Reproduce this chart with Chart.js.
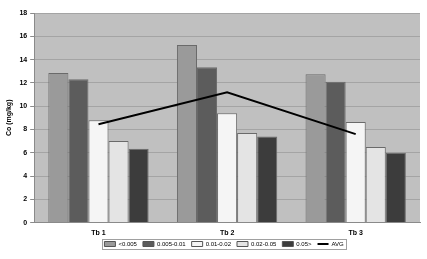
<!DOCTYPE html>
<html>
<head>
<meta charset="utf-8">
<script src="https://cdn.jsdelivr.net/npm/chart.js@4.4.0/dist/chart.umd.min.js"></script>
<style>
  html, body { margin: 0; padding: 0; background: #fff; }
  #wrap { width: 427px; height: 259px; position: relative; }
</style>
</head>
<body>
<div id="wrap"><canvas id="c"></canvas></div>
<script>
// --- data ---
const categories = ['Tb 1', 'Tb 2', 'Tb 3'];
const seriesNames = ['<0.005', '0.005-0.01', '0.01-0.02', '0.02-0.05', '0.05>'];
const s1 = [12.85, 15.25, 12.75];
const s2 = [12.3, 13.35, 12.1];
const s3 = [8.8, 9.4, 8.65];
const s4 = [7.0, 7.7, 6.5];
const s5 = [6.35, 7.4, 6.0];
const avg = [8.45, 11.2, 7.6];
const yTicks = [0, 2, 4, 6, 8, 10, 12, 14, 16, 18];

const barColors = ['#9a9a9a', '#5c5c5c', '#f5f5f5', '#e4e4e4', '#3c3c3c'];
const FONT = 'Liberation Sans, Arial, sans-serif';

// grey plot area + frame round the legend
const plotBg = {
    id: 'plotBg',
    afterLayout(chart) {
        // nudge the legend up/left so it sits like the original
        const lg = chart.legend;
        if (!lg) return;
        lg.top -= 8; lg.bottom -= 8;
        lg.left -= 3; lg.right -= 3;
    },
    beforeDraw(chart) {
        const a = chart.chartArea, ctx = chart.ctx;
        ctx.save();
        ctx.fillStyle = '#c0c0c0';
        ctx.fillRect(a.left, a.top, a.right - a.left, a.bottom - a.top);
        ctx.restore();
    },
    afterDraw(chart) {
        const lg = chart.legend, ctx = chart.ctx;
        if (!lg || !lg.legendHitBoxes.length) return;
        const boxes = lg.legendHitBoxes;
        const last = boxes[boxes.length - 1];
        const x0 = boxes[0].left - 2, x1 = last.left + last.width + 3;
        const y0 = boxes[0].top - 2, y1 = boxes[0].top + boxes[0].height + 2;
        ctx.save();
        ctx.strokeStyle = '#a0a0a0';
        ctx.lineWidth = 1;
        ctx.strokeRect(Math.round(x0) + 0.5, Math.round(y0) + 0.5, Math.round(x1 - x0), Math.round(y1 - y0));
        ctx.restore();
    }
};

const barData = [s1, s2, s3, s4, s5];
const datasets = barData.map((d, i) => ({
    type: 'bar',
    label: seriesNames[i],
    data: d,
    backgroundColor: barColors[i],
    borderColor: '#6a6a6a',
    borderWidth: 1,
    categoryPercentage: 0.78,
    barPercentage: 1.0,
    order: 2
}));
datasets.push({
    type: 'line',
    label: 'AVG',
    data: avg,
    borderColor: '#000',
    backgroundColor: '#000',
    borderWidth: 2,
    pointRadius: 0,
    tension: 0,
    order: 1
});

new Chart(document.getElementById('c'), {
    data: { labels: categories, datasets: datasets },
    options: {
        responsive: true,
        maintainAspectRatio: false,
        animation: false,
        layout: { padding: { top: 13, right: 7, left: 5, bottom: -6 } },
        scales: {
            x: {
                grid: { display: false, drawTicks: false },
                border: { color: '#8a8a8a' },
                ticks: { color: '#000', font: { family: FONT, size: 7, weight: 'bold' }, padding: 6 }
            },
            y: {
                min: 0, max: 18,
                afterBuildTicks(axis) { axis.ticks = yTicks.map(v => ({ value: v })); },
                grid: { color: '#a4a4a4', tickLength: 4, tickColor: '#8a8a8a' },
                border: { color: '#8a8a8a' },
                ticks: { color: '#000', font: { family: FONT, size: 7, weight: 'bold' }, padding: 3 },
                title: { display: true, text: 'Co (mg/kg)', color: '#000', font: { family: FONT, size: 7, weight: 'bold' }, padding: { top: 0, bottom: 3 } }
            }
        },
        plugins: {
            tooltip: { enabled: false },
            legend: {
                position: 'bottom',
                fullSize: false,
                labels: {
                    color: '#000',
                    font: { family: FONT, size: 6 },
                    usePointStyle: true,
                    pointStyleWidth: 11,
                    boxHeight: 5,
                    padding: 6,
                    generateLabels(chart) {
                        return chart.data.datasets.map((ds, i) => ({
                            text: ds.label,
                            fillStyle: ds.type === 'line' ? '#000' : ds.backgroundColor,
                            strokeStyle: ds.type === 'line' ? '#000' : '#555',
                            lineWidth: ds.type === 'line' ? 2 : 1,
                            pointStyle: ds.type === 'line' ? 'line' : 'rect',
                            datasetIndex: i,
                            fontColor: '#000'
                        }));
                    }
                }
            }
        }
    },
    plugins: [plotBg]
});
</script>
</body>
</html>
